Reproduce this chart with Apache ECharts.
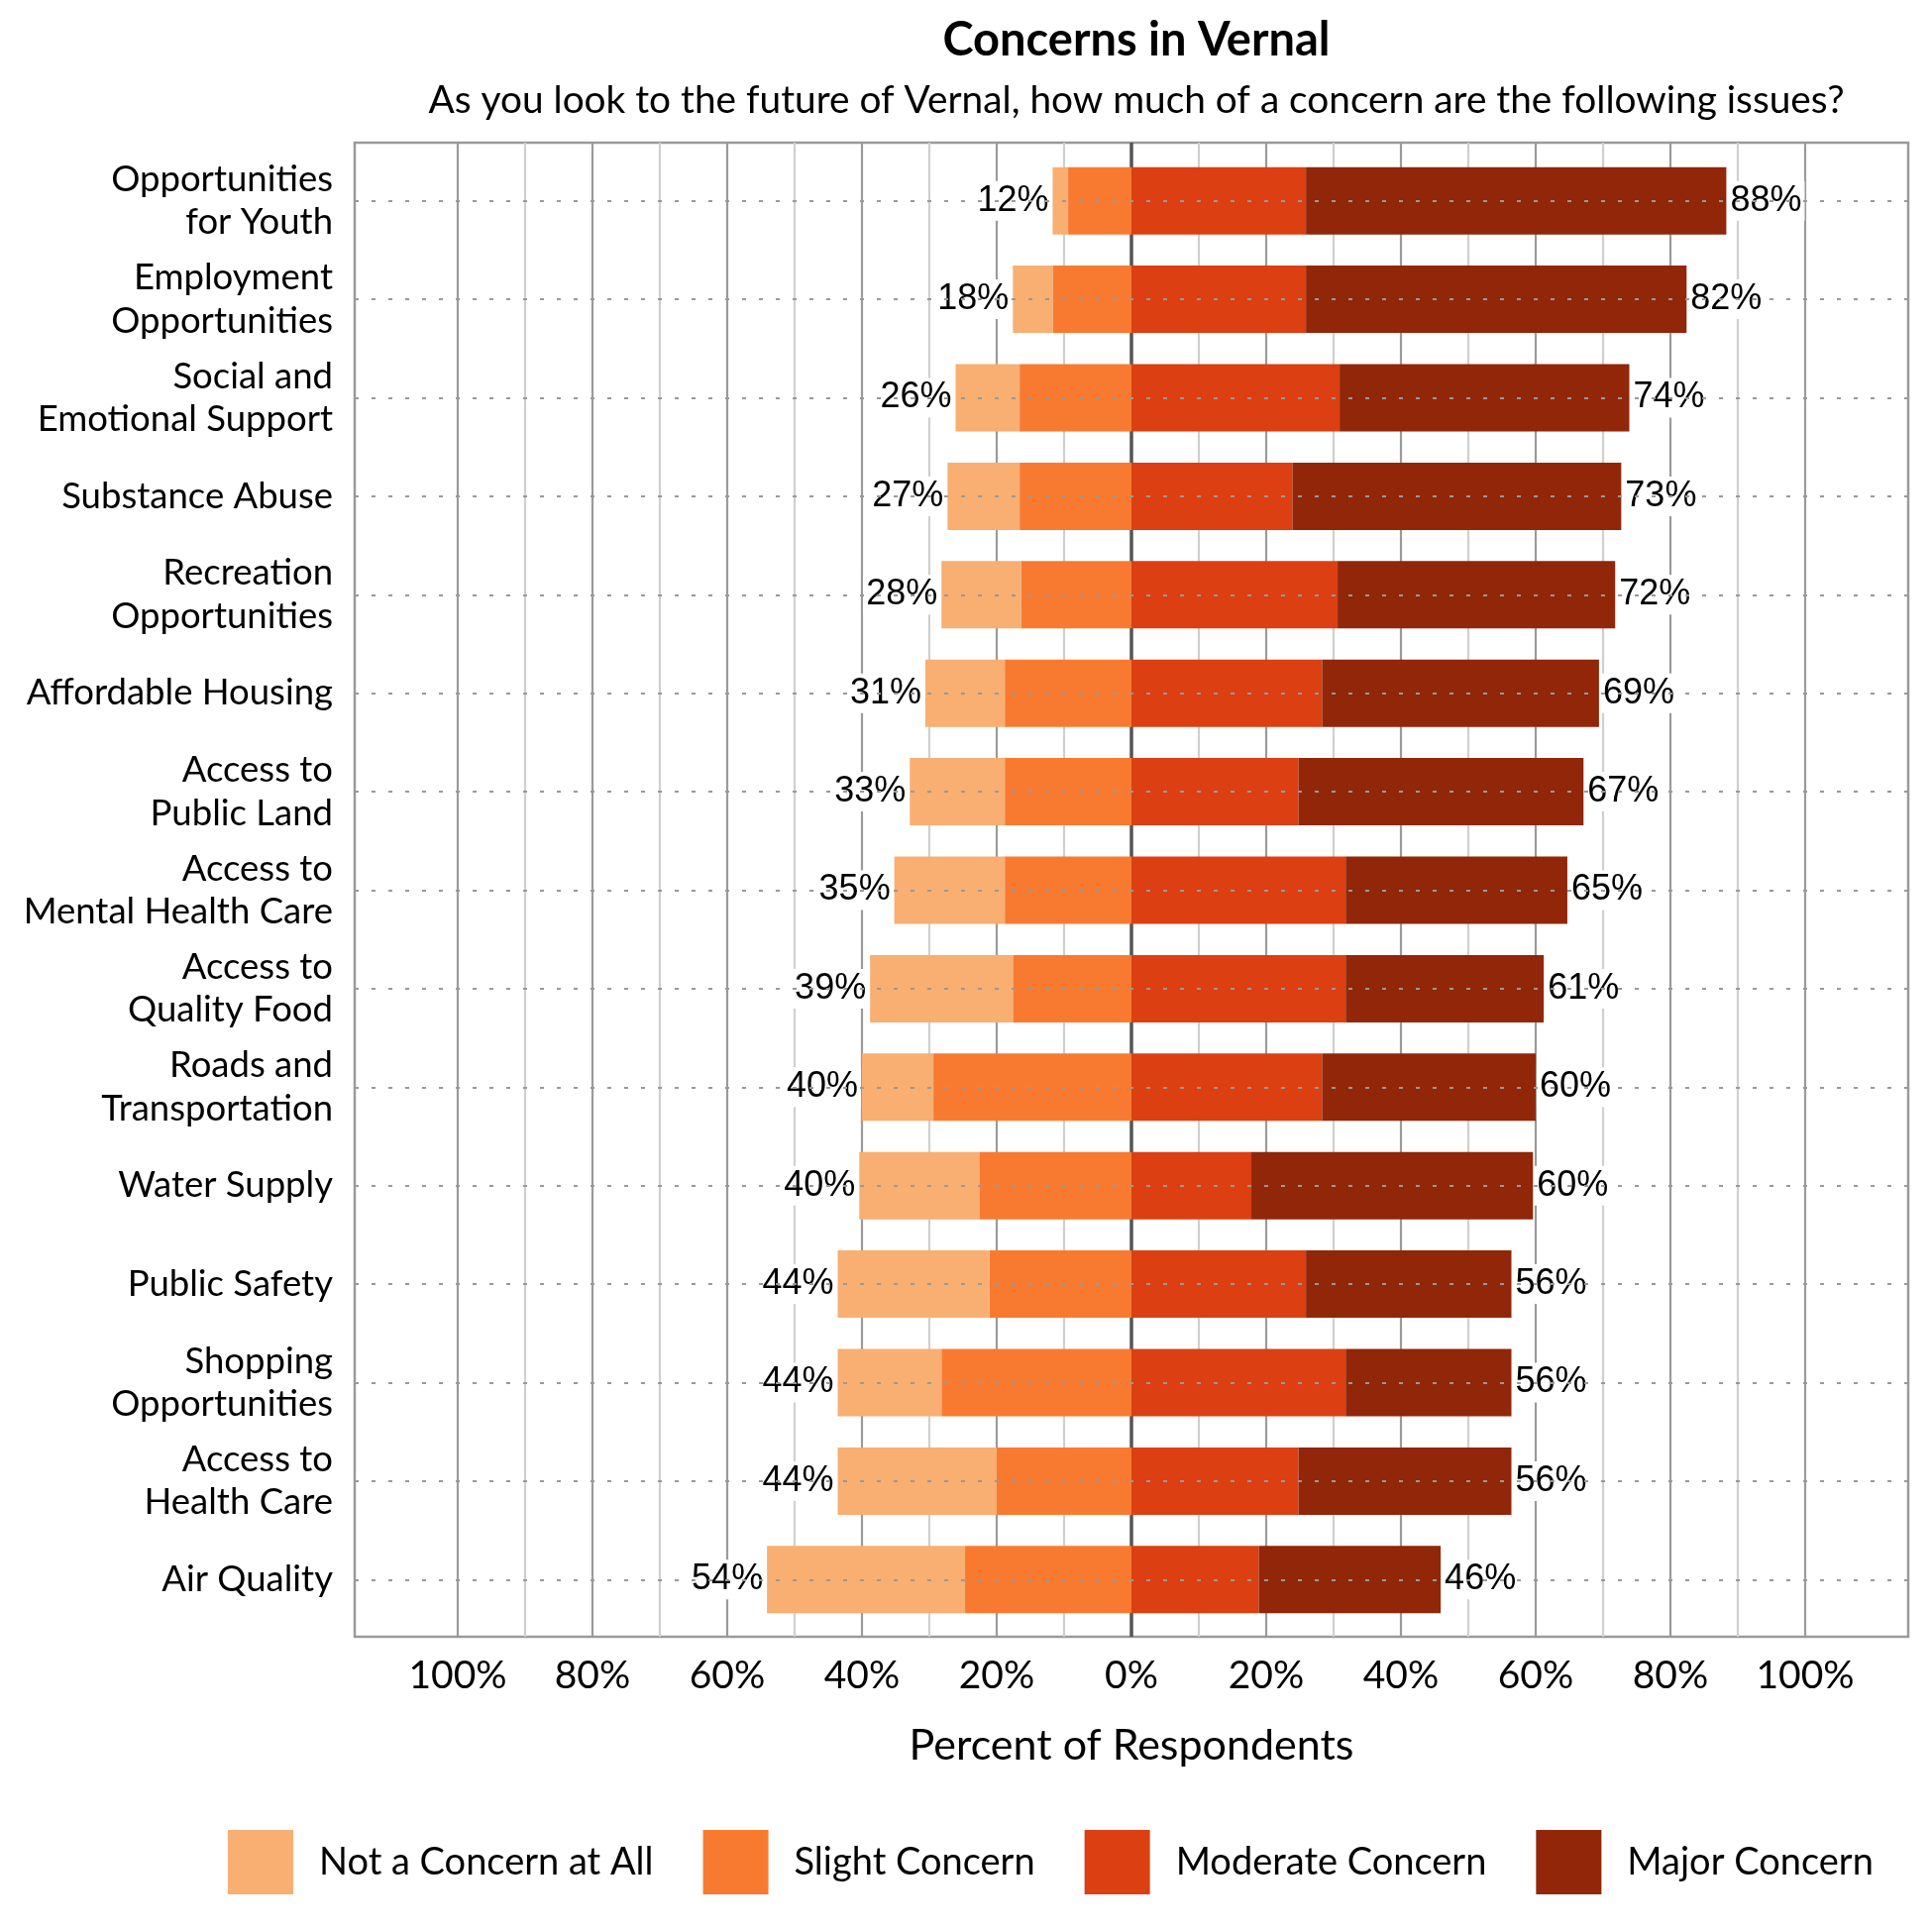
<!DOCTYPE html>
<html>
<head>
<meta charset="utf-8">
<script src="https://cdn.jsdelivr.net/npm/echarts@6/dist/echarts.min.js"></script>
<style>
  html, body { margin: 0; padding: 0; background: #fff; }
  #chart { width: 1950px; height: 1950px; }
</style>
</head>
<body>
<div id="chart"></div>
<script>
// survey rows, top to bottom
var categories = [
  'Opportunities\nfor Youth', 'Employment\nOpportunities', 'Social and\nEmotional Support',
  'Substance Abuse', 'Recreation\nOpportunities', 'Affordable Housing',
  'Access to\nPublic Land', 'Access to\nMental Health Care', 'Access to\nQuality Food',
  'Roads and\nTransportation', 'Water Supply', 'Public Safety',
  'Shopping\nOpportunities', 'Access to\nHealth Care', 'Air Quality'
];
// percent of respondents
var notConcern      = [2.3, 5.9, 9.5, 10.7, 11.8, 11.8, 14.1, 16.4, 21.2, 10.6, 17.8, 22.5, 15.4, 23.6, 29.4];
var slightConcern   = [9.4, 11.7, 16.6, 16.6, 16.4, 18.8, 18.8, 18.8, 17.6, 29.4, 22.6, 21.1, 28.2, 20.0, 24.7];
var moderateConcern = [25.9, 25.9, 30.9, 23.9, 30.6, 28.3, 24.8, 31.8, 31.8, 28.3, 17.8, 25.9, 31.8, 24.8, 18.9];
var majorConcern    = [62.4, 56.5, 43.0, 48.8, 41.2, 41.1, 42.3, 32.9, 29.4, 31.7, 41.8, 30.5, 24.6, 31.6, 27.0];
var legendNames = ['Not a Concern at All', 'Slight Concern', 'Moderate Concern', 'Major Concern'];

var FONT = 'Lato';
var colors = {
  not: '#F9AE72',
  slight: '#F87A31',
  moderate: '#DC3F12',
  major: '#912608'
};

var leftTotals = notConcern.map(function (v, i) { return v + slightConcern[i]; });
var rightTotals = moderateConcern.map(function (v, i) { return v + majorConcern[i]; });

var valueLabel = {
  show: true,
  fontFamily: 'Liberation Sans',
  fontSize: 36,
  color: '#000',
  backgroundColor: '#fff',
  padding: [2, 3],
  distance: 1
};

var chart = echarts.init(document.getElementById('chart'));

var option = {
  animation: false,
  backgroundColor: '#fff',
  title: [
    {
      text: 'Concerns in Vernal',
      left: 1142, top: 12, textAlign: 'center',
      textStyle: { fontFamily: FONT, fontWeight: 'bold', fontSize: 47, color: '#000' }
    },
    {
      text: 'As you look to the future of Vernal, how much of a concern are the following issues?',
      left: 1142, top: 77, textAlign: 'center',
      textStyle: { fontFamily: FONT, fontWeight: 'normal', fontSize: 38.8, color: '#000' }
    }
  ],
  legend: {
    data: legendNames,
    left: 225, top: 1842,
    itemWidth: 66, itemHeight: 65, itemGap: 50,
    icon: 'rect',
    selectedMode: false,
    textStyle: { fontFamily: FONT, fontSize: 38, color: '#000', padding: [0, 0, 0, 21] }
  },
  grid: [
    { left: 358, right: 24, top: 153, height: 1491 },                 // bars
    { left: 462, right: 128, top: 144, height: 1508 },                // -100..100 grid lines
    { left: 358, right: 24, top: 144, height: 1508, show: true,       // frame
      borderColor: '#9a9a9a', borderWidth: 2.5, backgroundColor: 'rgba(0,0,0,0)' }
  ],
  xAxis: [
    { gridIndex: 0, type: 'value', min: -115.3, max: 115.3, show: false },
    {
      gridIndex: 1, type: 'value', min: -100, max: 100, interval: 10,
      axisLine: { show: false }, axisTick: { show: false },
      axisLabel: {
        margin: 20, fontFamily: FONT, fontSize: 39, color: '#000',
        formatter: function (v) { return Math.round(v) % 20 === 0 ? Math.abs(Math.round(v)) + '%' : ''; }
      },
      splitLine: { show: true, lineStyle: { color: ['#9a9a9a', '#cfcfcf'], width: 2.2 } },
      name: 'Percent of Respondents', nameLocation: 'middle', nameGap: 89,
      nameTextStyle: { fontFamily: FONT, fontSize: 43, color: '#000' }
    },
    {
      gridIndex: 1, type: 'value', min: -100, max: 100, interval: 100,
      axisLine: { show: false }, axisTick: { show: false }, axisLabel: { show: false },
      splitLine: { show: true, lineStyle: { color: ['rgba(0,0,0,0)', '#555'], width: 3.5 } }
    },
    { gridIndex: 2, type: 'value', min: 0, max: 1, show: false }
  ],
  yAxis: [
    {
      gridIndex: 0, type: 'category', data: categories, inverse: true,
      axisLine: { show: false }, axisTick: { show: false }, splitLine: { show: false },
      axisLabel: { margin: 22, fontFamily: FONT, fontSize: 36.5, lineHeight: 43.5, color: '#000', align: 'right' }
    },
    { gridIndex: 1, type: 'value', min: 0, max: 1, show: false },
    { gridIndex: 2, type: 'value', min: 0, max: 1, show: false }
  ],
  series: [
    {
      type: 'line', xAxisIndex: 0, yAxisIndex: 0, data: [], z: 1, silent: true,
      markLine: {
        silent: true, symbol: 'none', label: { show: false },
        lineStyle: { color: '#999', width: 2, type: [4, 13] },
        data: categories.map(function (c) { return { yAxis: c }; })
      }
    },
    {
      name: 'Slight Concern', type: 'bar', stack: 'all', barWidth: 68,
      itemStyle: { color: colors.slight },
      data: slightConcern.map(function (v) { return -v; })
    },
    {
      name: 'Not a Concern at All', type: 'bar', stack: 'all', barWidth: 68,
      itemStyle: { color: colors.not },
      label: Object.assign({}, valueLabel, {
        position: 'left',
        formatter: function (p) { return Math.round(leftTotals[p.dataIndex]) + '%'; }
      }),
      data: notConcern.map(function (v) { return -v; })
    },
    {
      name: 'Moderate Concern', type: 'bar', stack: 'all', barWidth: 68,
      itemStyle: { color: colors.moderate },
      data: moderateConcern
    },
    {
      name: 'Major Concern', type: 'bar', stack: 'all', barWidth: 68,
      itemStyle: { color: colors.major },
      label: Object.assign({}, valueLabel, {
        position: 'right',
        formatter: function (p) { return Math.round(rightTotals[p.dataIndex]) + '%'; }
      }),
      data: majorConcern
    }
  ]
};

chart.setOption(option);
</script>
</body>
</html>
